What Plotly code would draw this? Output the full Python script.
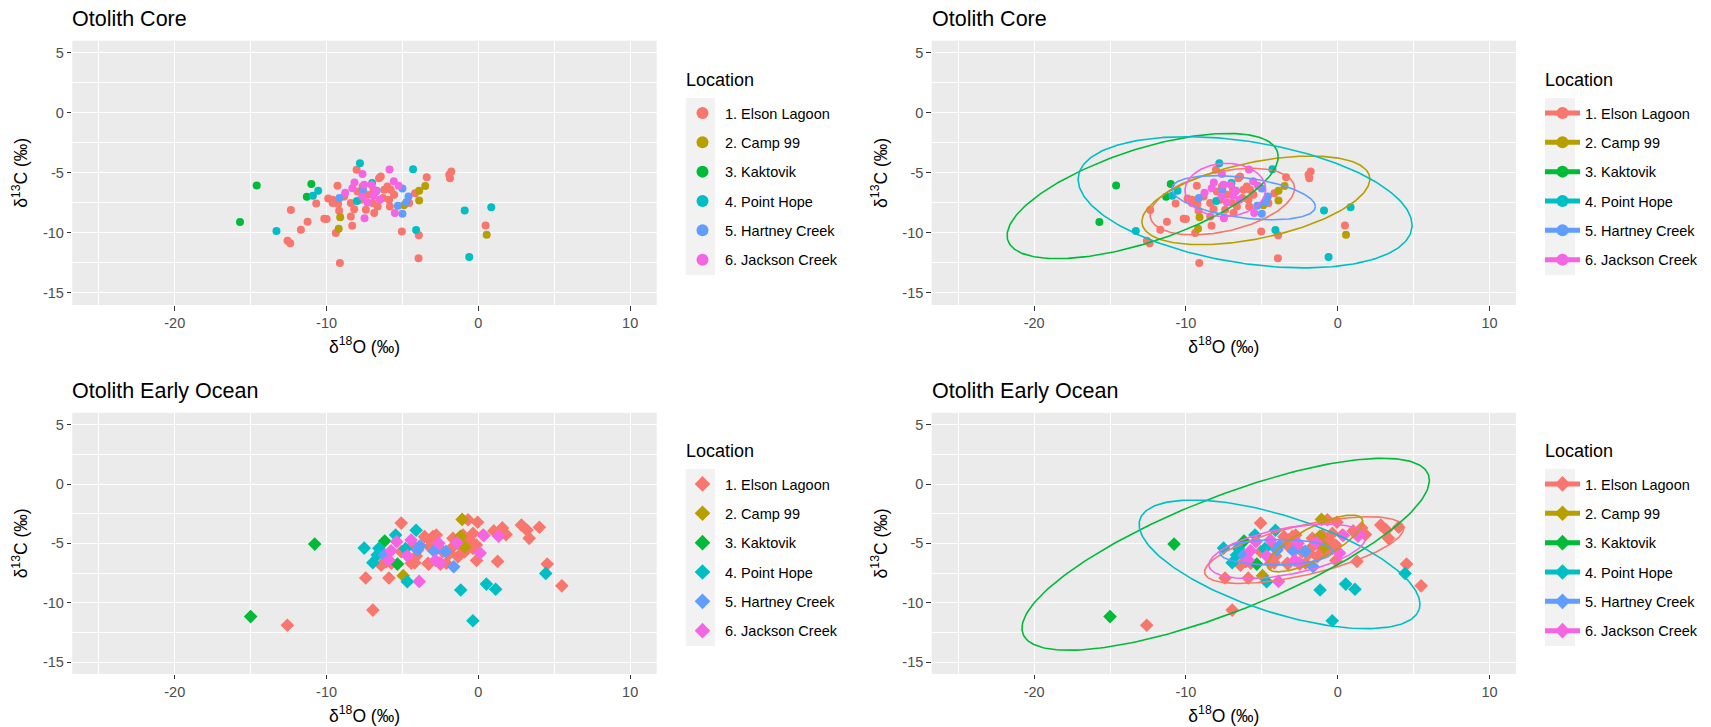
import numpy as np
import plotly.graph_objects as go

W, H = 1711, 727

LOCATIONS = ["1. Elson Lagoon", "2. Camp 99", "3. Kaktovik", "4. Point Hope",
             "5. Hartney Creek", "6. Jackson Creek"]
COLORS = ["#F8766D", "#B79F00", "#00BA38", "#00BFC4", "#619CFF", "#F564E3"]

PANEL_TITLES = ["Otolith Core", "Otolith Early Ocean"]
LEGEND_TITLE = "Location"
X_TICKS = [-20, -10, 0, 10]
X_TICK_LABELS = ["-20", "-10", "0", "10"]
X_MINOR = [-25, -15, -5, 5]
Y_TICKS = [-15, -10, -5, 0, 5]
Y_TICK_LABELS = ["-15", "-10", "-5", "0", "5"]
Y_MINOR = [-12.5, -7.5, -2.5, 2.5]
X_RANGE = [-26.75, 11.75]
Y_RANGE = [-16, 6]

# ---------------- Otolith Core (d18O, d13C) ----------------
core_elson_x = [-12.35, -12.57, -12.39, -11.69, -11.25, -10.68, -10.15, -10.0, -9.89, -9.6,
                -9.28, -9.24, -9.17, -9.39, -9.12, -8.31, -8.02, -8.4, -8.18, -8.84,
                -7.75, -7.41, -6.86, -6.54, -6.43, -6.28, -5.99, -5.77, -5.55, -5.83,
                -5.04, -3.92, -3.94, -3.4, -4.17, -1.78, -1.87, 0.48, -6.97, -7.3,
                -7.96, -6.64, -6.2, -6.9, -7.63, -5.88, -8.4, -9.6, -4.56, -1.92]
core_elson_y = [-8.1, -10.65, -10.85, -9.74, -9.07, -7.55, -8.83, -8.85, -7.13, -7.24,
                -6.08, -7.6, -8.16, -10.0, -12.5, -9.4, -4.75, -7.52, -8.02, -6.97,
                -7.24, -8.08, -8.35, -5.44, -5.3, -7.1, -6.14, -6.41, -6.83, -7.8,
                -9.88, -10.2, -12.1, -5.36, -6.69, -4.89, -5.44, -9.38, -7.52, -6.83,
                -6.55, -7.8, -6.41, -6.41, -6.14, -7.24, -8.63, -7.52, -7.52, -5.15]
core_camp_x = [-9.1, -9.2, -3.9, -3.5, -3.9, -4.9, 0.55]
core_camp_y = [-8.7, -9.65, -6.5, -6.1, -7.3, -7.7, -10.15]
core_kakt_x = [-14.6, -15.7, -11.0, -11.3]
core_kakt_y = [-6.05, -9.1, -5.92, -6.98]
core_hope_x = [-13.3, -10.9, -10.55, -8.0, -7.8, -7.0, -4.3, -4.1, -0.9, 0.85, -0.6]
core_hope_y = [-9.85, -6.9, -6.5, -7.35, -4.2, -5.85, -4.7, -9.75, -8.13, -7.87, -12.0]
core_hart_x = [-9.15, -6.7, -5.0, -4.6, -4.75, -5.3, -5.0, -7.6]
core_hart_y = [-7.1, -6.5, -6.3, -6.97, -7.45, -7.73, -8.41, -6.4]
core_jack_x = [-7.63, -5.85, -8.16, -8.77, -7.05, -7.64, -6.9, -7.3, -7.5, -5.57,
               -5.25, -5.5, -8.3, -6.74, -6.48, -7.52]
core_jack_y = [-5.09, -4.72, -5.81, -6.66, -6.0, -6.97, -6.9, -7.47, -8.77, -5.7,
               -6.07, -8.35, -6.28, -6.55, -7.24, -6.0]

# ---------------- Otolith Early Ocean ----------------
eo_elson_x = [-5.08, -0.68, -0.05, 1.02, 1.58, 1.83, 2.84, 3.2, 3.35, 4.02,
              4.54, 5.5, 1.27, -0.12, -7.42, -5.89, -6.95, -12.58, -6.4, -4.19,
              -3.28, -2.5, -3.54, -2.99, -1.67, -1.12, -0.79, -0.57, -0.35, -0.13,
              -0.9, -1.34, -1.89, -1.67, -2.33, -3.21, -3.32, -2.11, -3.21, -4.31,
              -5.08, -6.07, -5.73, -4.42, -4.09, -2.77, 0.31, -0.35, -1.01]
eo_elson_y = [-3.29, -3.01, -3.22, -3.95, -3.7, -4.26, -3.46, -3.88, -4.58, -3.64,
              -6.75, -8.58, -6.52, -6.44, -7.92, -7.92, -10.62, -11.9, -6.84, -6.64,
              -6.75, -6.75, -4.44, -4.44, -4.58, -5.28, -5.0, -4.72, -5.42, -5.14,
              -5.7, -6.12, -5.84, -5.28, -5.7, -5.28, -6.68, -6.68, -4.72, -5.14,
              -5.7, -6.54, -6.68, -6.68, -6.07, -4.3, -4.3, -4.16, -4.3]
eo_camp_x = [-1.07, -4.95, -1.18, -0.9]
eo_camp_y = [-2.98, -7.72, -4.4, -5.3]
eo_kakt_x = [-15.0, -10.78, -6.17, -5.33]
eo_kakt_y = [-11.17, -5.06, -4.8, -6.75]
eo_hope_x = [-7.52, -6.95, -6.55, -6.66, -5.45, -4.1, -4.68, -1.16, 0.53, 1.14, -0.36, 4.44, -4.8]
eo_hope_y = [-5.4, -6.63, -5.42, -5.98, -4.3, -3.9, -8.23, -8.93, -8.43, -8.87, -11.52, -7.53, -5.45]
eo_hart_x = [-6.19, -3.84, -2.91, -2.14, -1.62, -4.0]
eo_hart_y = [-5.99, -5.2, -5.66, -5.68, -6.97, -5.57]
eo_jack_x = [-5.38, -5.75, -5.9, -4.43, -4.68, -3.9, -2.61, -2.83, -2.52, -1.4, 0.12, 0.37, 1.34]
eo_jack_y = [-4.86, -5.63, -6.41, -4.72, -6.05, -8.21, -5.0, -6.43, -6.64, -4.94, -5.82, -4.34, -4.4]

# ---------------- ellipse parameters ----------------
# centre, half x-extent, half y-extent, cos(phase) -> y at the right-most point
core_ell_cx = [-7.6, -5.39, -12.85, -6.1, -6.2, -7.4]
core_ell_cy = [-7.39, -7.29, -6.93, -7.45, -7.07, -6.42]
core_ell_ax = [4.76, 7.51, 8.93, 11.0, 4.73, 2.66]
core_ell_ay = [2.77, 3.69, 5.21, 5.46, 1.84, 2.21]
core_ell_c = [0.40, 0.48, 0.63, -0.35, -0.40, 0.03]

eo_ell_cx = [-2.21, -1.49, -7.38, -3.83, -4.04, -3.32]
eo_ell_cy = [-5.57, -5.01, -5.92, -6.77, -5.75, -5.67]
eo_ell_ax = [6.56, 3.15, 13.42, 9.25, 3.72, 5.16]
eo_ell_ay = [2.81, 2.39, 8.09, 5.42, 1.08, 2.29]
eo_ell_c = [0.65, 0.77, 0.77, -0.62, 0.06, 0.50]

core_sets = [(core_elson_x, core_elson_y), (core_camp_x, core_camp_y), (core_kakt_x, core_kakt_y),
             (core_hope_x, core_hope_y), (core_hart_x, core_hart_y), (core_jack_x, core_jack_y)]
eo_sets = [(eo_elson_x, eo_elson_y), (eo_camp_x, eo_camp_y), (eo_kakt_x, eo_kakt_y),
           (eo_hope_x, eo_hope_y), (eo_hart_x, eo_hart_y), (eo_jack_x, eo_jack_y)]
core_ell = list(zip(core_ell_cx, core_ell_cy, core_ell_ax, core_ell_ay, core_ell_c))
eo_ell = list(zip(eo_ell_cx, eo_ell_cy, eo_ell_ax, eo_ell_ay, eo_ell_c))


def ellipse(cx, cy, ax, ay, c, n=240):
    t = np.linspace(0, 2 * np.pi, n)
    phi = np.arccos(c)
    return cx + ax * np.cos(t), cy + ay * np.cos(t - phi)


FONT = "Liberation Sans, Arial, Helvetica, sans-serif"

# panel geometry in pixels (left, right, top, bottom)
PANELS = {
    1: (72.3, 656.7, 40.7, 305.0),
    2: (931.7, 1516.0, 40.7, 305.0),
    3: (72.3, 656.7, 412.8, 673.9),
    4: (931.7, 1516.0, 412.8, 673.9),
}
LEGEND_TITLE_POS = {1: (685.7, 80.5), 2: (1545.0, 80.5), 3: (685.7, 450.7), 4: (1545.0, 450.7)}
LEGEND_POS = {1: (680, 97), 2: (1540, 97), 3: (680, 468), 4: (1540, 468)}
KEYBOX = {1: (685.7, 715.0, 98, 275), 2: (1545.0, 1575.0, 98, 275),
          3: (685.7, 715.0, 469, 646), 4: (1545.0, 1575.0, 469, 646)}

fig = go.Figure()

panel_cfg = [
    (1, core_sets, None, "circle", 8, "legend", PANEL_TITLES[0]),
    (2, core_sets, core_ell, "circle", 8, "legend2", PANEL_TITLES[0]),
    (3, eo_sets, None, "diamond", 10.5, "legend3", PANEL_TITLES[1]),
    (4, eo_sets, eo_ell, "diamond", 10.5, "legend4", PANEL_TITLES[1]),
]

layout = dict(
    width=W, height=H, autosize=False,
    margin=dict(l=0, r=0, t=0, b=0),
    paper_bgcolor="white", plot_bgcolor="#EBEBEB",
    font=dict(family=FONT, color="#000000"),
    annotations=[], shapes=[],
)

for idx, sets, ells, sym, msize, leg, title in panel_cfg:
    xa = "x" if idx == 1 else f"x{idx}"
    ya = "y" if idx == 1 else f"y{idx}"
    for i, (xs, ys) in enumerate(sets):
        fig.add_trace(go.Scatter(
            x=xs, y=ys, mode="markers", xaxis=xa, yaxis=ya,
            name=LOCATIONS[i], legend=leg, legendgroup=f"{leg}_{i}",
            showlegend=(ells is None),
            marker=dict(color=COLORS[i], size=msize, symbol=sym, line=dict(width=0)),
            hoverinfo="x+y+name",
        ))
    if ells is not None:
        for i, (cx, cy, ax, ay, c) in enumerate(ells):
            ex, ey = ellipse(cx, cy, ax, ay, c)
            fig.add_trace(go.Scatter(
                x=ex, y=ey, mode="lines", xaxis=xa, yaxis=ya,
                name=LOCATIONS[i], legend=leg, legendgroup=f"{leg}_{i}",
                showlegend=False, line=dict(color=COLORS[i], width=1.6),
                hoverinfo="skip",
            ))
        for i in range(6):
            fig.add_trace(go.Scatter(
                x=[None], y=[None], mode="lines+markers", xaxis=xa, yaxis=ya,
                name=LOCATIONS[i], legend=leg, legendgroup=f"{leg}_{i}",
                showlegend=True, line=dict(color=COLORS[i], width=1.1),
                marker=dict(color=COLORS[i], size=msize, symbol=sym),
            ))

    l, r, t, b = PANELS[idx]
    xkey = "xaxis" if idx == 1 else f"xaxis{idx}"
    ykey = "yaxis" if idx == 1 else f"yaxis{idx}"
    layout[xkey] = dict(
        domain=[l / W, r / W], anchor=ya, range=X_RANGE,
        tickmode="array", tickvals=X_TICKS, ticktext=X_TICK_LABELS,
        ticks="outside", ticklen=4.5, tickwidth=1.1, tickcolor="#333333",
        tickfont=dict(size=14.5, color="#4D4D4D", family=FONT),
        showgrid=True, gridcolor="white", gridwidth=1.2, zeroline=False, showline=False,
        minor=dict(tickvals=X_MINOR, showgrid=True, gridcolor="white", gridwidth=0.6, ticks=""),
        title=dict(text="δ<sup>18</sup>O (‰)", font=dict(size=17.5, color="#000000", family=FONT),
                   standoff=10),
        fixedrange=True,
    )
    layout[ykey] = dict(
        domain=[1 - b / H, 1 - t / H], anchor=xa, range=Y_RANGE,
        tickmode="array", tickvals=Y_TICKS, ticktext=Y_TICK_LABELS,
        ticks="outside", ticklen=4.5, tickwidth=1.1, tickcolor="#333333",
        tickfont=dict(size=14.5, color="#4D4D4D", family=FONT),
        showgrid=True, gridcolor="white", gridwidth=1.2, zeroline=False, showline=False,
        minor=dict(tickvals=Y_MINOR, showgrid=True, gridcolor="white", gridwidth=0.6, ticks=""),
        title=dict(text="δ<sup>13</sup>C (‰)", font=dict(size=17.5, color="#000000", family=FONT),
                   standoff=10),
        fixedrange=True,
    )
    # panel title
    layout["annotations"].append(dict(
        text=title, xref="paper", yref="paper", x=(l - 2) / W, y=1 - (t - 22) / H,
        xanchor="left", yanchor="middle", showarrow=False,
        font=dict(size=21.5, color="#000000", family=FONT),
    ))
    # legend title
    tx, ty = LEGEND_TITLE_POS[idx]
    layout["annotations"].append(dict(
        text=LEGEND_TITLE, xref="paper", yref="paper", x=(tx - 2) / W, y=1 - ty / H,
        xanchor="left", yanchor="middle", showarrow=False,
        font=dict(size=18, color="#000000", family=FONT),
    ))
    # legend
    lx, ly = LEGEND_POS[idx]
    layout[leg] = dict(
        x=lx / W, y=1 - ly / H, xanchor="left", yanchor="top",
        bgcolor="rgba(0,0,0,0)", borderwidth=0,
        font=dict(size=14.5, color="#000000", family=FONT),
        tracegroupgap=7.5, itemsizing="constant", itemwidth=35,
    )
    kx0, kx1, ky0, ky1 = KEYBOX[idx]
    layout["shapes"].append(dict(
        type="rect", xref="paper", yref="paper", x0=kx0 / W, x1=kx1 / W,
        y0=1 - ky1 / H, y1=1 - ky0 / H, fillcolor="#F2F2F2", line=dict(width=0), layer="below",
    ))

fig.update_layout(**layout)
fig.write_html("out.html", post_script="document.body.style.margin='0';",
               config={"displayModeBar": False})
